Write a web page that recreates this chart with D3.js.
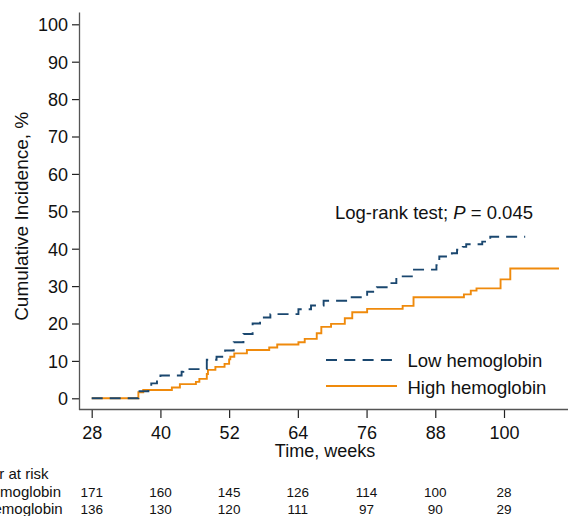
<!DOCTYPE html>
<html>
<head>
<meta charset="utf-8">
<script src="https://cdn.jsdelivr.net/npm/d3@7"></script>
<style>
body { margin:0; background:#fff; }
svg text { font-family: "Liberation Sans", Arial, sans-serif; fill:#111; }
</style>
</head>
<body>
<svg id="km"></svg>
<script>
// step times (weeks) and cumulative incidence (%)
var lowTimes  = [28, 36.15, 37.9, 38.4, 39.4, 40.0, 43.7, 44.0, 48.1, 49.8, 51.3, 52.8, 54.5, 56.1, 57.4, 59.2, 64.1, 66.3, 68.5, 73.4, 76.1, 77.8, 80.0, 81.2, 84.1, 88.2, 88.7, 90.9, 91.8, 92.8, 93.4, 96.2, 97.6, 103.7];
var lowValues = [0, 1.9, 3.3, 4.0, 5.1, 6.1, 7.1, 7.8, 10.3, 11.1, 12.8, 15.0, 17.2, 20.0, 21.6, 22.5, 23.8, 24.8, 26.1, 27.0, 28.5, 29.7, 30.8, 32.6, 34.4, 35.6, 37.9, 38.8, 39.7, 40.5, 41.2, 41.9, 43.2, 43.2];

var highTimes  = [28, 36.15, 37.0, 42.0, 43.4, 46.2, 46.8, 48.1, 48.3, 49.6, 51.2, 52.0, 52.2, 52.9, 55.1, 59.0, 60.4, 64.1, 65.2, 67.3, 68.1, 69.8, 72.2, 73.5, 76.1, 82.3, 84.2, 93.0, 94.2, 95.2, 99.4, 101.1, 109.6];
var highValues = [0, 1.6, 2.2, 2.9, 3.8, 4.4, 5.2, 6.5, 7.6, 8.4, 9.2, 10.4, 11.1, 12.0, 12.9, 13.6, 14.4, 15.0, 15.9, 17.4, 19.1, 19.9, 21.4, 23.0, 23.9, 24.7, 27.0, 27.8, 28.8, 29.4, 31.8, 34.7, 34.7];

var xTicks = [28, 40, 52, 64, 76, 88, 100];
var yTicks = [0, 10, 20, 30, 40, 50, 60, 70, 80, 90, 100];

var riskGroups = ["Low hemoglobin", "High hemoglobin"];
var riskLow  = [171, 160, 145, 126, 114, 100, 28];
var riskHigh = [136, 130, 120, 111, 97, 90, 29];

var blue = "#1a476f";
var orange = "#ef8a0c";

var toPoints = function(times, values)
{
    return times.map(function(t, i) { return {t: t, v: values[i]}; });
}

var drawChart = function()
{
    var width = 568;
    var height = 516;

    var svg = d3.select("#km")
            .attr("width", width)
            .attr("height", height);

    var xScale = d3.scaleLinear()
                .domain([28, 100])
                .range([91.7, 504]);

    var yScale = d3.scaleLinear()
                .domain([0, 100])
                .range([398.3, 24.3]);

    // axes
    var yAxis = d3.axisLeft(yScale)
                .tickValues(yTicks)
                .tickSize(7.5)
                .tickPadding(4);
    var gy = svg.append("g")
        .attr("transform", "translate(79.5,0)")
        .call(yAxis);
    gy.select(".domain").remove();
    gy.selectAll(".tick line").attr("stroke", "#222").attr("stroke-width", 1.2);
    gy.selectAll(".tick text")
        .attr("font-size", "18px")
        .attr("dy", "0.36em")
        .attr("fill", "#111");

    var xAxis = d3.axisBottom(xScale)
                .tickValues(xTicks)
                .tickSize(8.5)
                .tickPadding(8);
    var gx = svg.append("g")
        .attr("transform", "translate(0,409.5)")
        .call(xAxis);
    gx.select(".domain").remove();
    gx.selectAll(".tick line").attr("stroke", "#222").attr("stroke-width", 1.2);
    gx.selectAll(".tick text")
        .attr("font-size", "18px")
        .attr("fill", "#111");

    svg.append("line")
        .attr("x1", 79.5).attr("x2", 79.5)
        .attr("y1", 12.5).attr("y2", 410)
        .attr("stroke", "#555").attr("stroke-width", 1.3);
    svg.append("line")
        .attr("x1", 79).attr("x2", 568)
        .attr("y1", 409.5).attr("y2", 409.5)
        .attr("stroke", "#555").attr("stroke-width", 1.3);

    // titles
    svg.append("text")
        .attr("x", 325)
        .attr("y", 457)
        .attr("text-anchor", "middle")
        .attr("font-size", "18px")
        .text("Time, weeks");

    svg.append("text")
        .attr("transform", "translate(27.5," + ((yScale(0) + yScale(100)) / 2 + 5) + ") rotate(-90)")
        .attr("text-anchor", "middle")
        .attr("font-size", "19px")
        .text("Cumulative Incidence, %");

    // curves
    var line = d3.line()
        .x(function(d) { return xScale(d.t); })
        .y(function(d) { return yScale(d.v); })
        .curve(d3.curveStepAfter);

    svg.append("path")
        .datum(toPoints(highTimes, highValues))
        .attr("d", line)
        .attr("fill", "none")
        .attr("stroke", orange)
        .attr("stroke-width", 1.9);

    svg.append("path")
        .datum(toPoints(lowTimes, lowValues))
        .attr("d", line)
        .attr("fill", "none")
        .attr("stroke", blue)
        .attr("stroke-width", 1.9)
        .attr("stroke-dasharray", "11,7");

    // annotation
    var note = svg.append("text")
        .attr("x", 335)
        .attr("y", 219)
        .attr("font-size", "18.5px");
    note.append("tspan").text("Log-rank test; ");
    note.append("tspan").attr("font-style", "italic").text("P");
    note.append("tspan").text(" = 0.045");

    // legend
    var legend = svg.append("g");
    legend.append("line")
        .attr("x1", 326).attr("x2", 397)
        .attr("y1", 360).attr("y2", 360)
        .attr("stroke", blue)
        .attr("stroke-width", 1.9)
        .attr("stroke-dasharray", "11,7.3");
    legend.append("line")
        .attr("x1", 326).attr("x2", 397)
        .attr("y1", 386).attr("y2", 386)
        .attr("stroke", orange)
        .attr("stroke-width", 1.9);
    legend.append("text")
        .attr("x", 407.5).attr("y", 367)
        .attr("font-size", "18.5px")
        .text(riskGroups[0]);
    legend.append("text")
        .attr("x", 407.5).attr("y", 393.5)
        .attr("font-size", "18.5px")
        .text(riskGroups[1]);

    // number at risk table (left part is cropped in the original figure)
    svg.append("text")
        .attr("x", 48.5).attr("y", 479)
        .attr("text-anchor", "end")
        .attr("font-size", "15px")
        .text("Number at risk");
    svg.append("text")
        .attr("x", 61).attr("y", 497)
        .attr("text-anchor", "end")
        .attr("font-size", "15px")
        .text(riskGroups[0]);
    svg.append("text")
        .attr("x", 62.7).attr("y", 514)
        .attr("text-anchor", "end")
        .attr("font-size", "15px")
        .text(riskGroups[1]);

    svg.selectAll(".riskLow")
        .data(riskLow)
        .enter()
        .append("text")
        .attr("class", "riskLow")
        .attr("x", function(d, i) { return xScale(xTicks[i]); })
        .attr("y", 497)
        .attr("text-anchor", "middle")
        .attr("font-size", "13.5px")
        .text(function(d) { return d; });

    svg.selectAll(".riskHigh")
        .data(riskHigh)
        .enter()
        .append("text")
        .attr("class", "riskHigh")
        .attr("x", function(d, i) { return xScale(xTicks[i]); })
        .attr("y", 514)
        .attr("text-anchor", "middle")
        .attr("font-size", "13.5px")
        .text(function(d) { return d; });
}

drawChart();
</script>
</body>
</html>
